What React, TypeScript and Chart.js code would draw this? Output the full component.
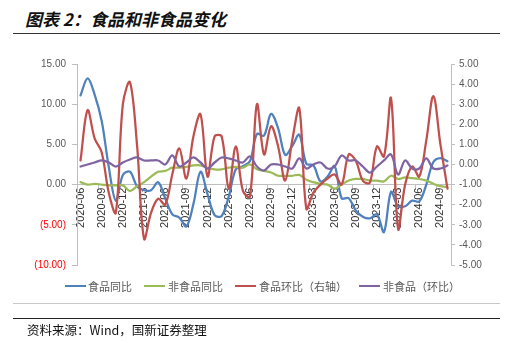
import React, { useEffect, useRef } from "react";
import { Chart, registerables } from "chart.js";

Chart.register(...registerables);

const categories = [
  "2020-06", "2020-07", "2020-08", "2020-09", "2020-10", "2020-11", "2020-12",
  "2021-01", "2021-02", "2021-03", "2021-04", "2021-05", "2021-06",
  "2021-07", "2021-08", "2021-09", "2021-10", "2021-11", "2021-12",
  "2022-01", "2022-02", "2022-03", "2022-04", "2022-05", "2022-06",
  "2022-07", "2022-08", "2022-09", "2022-10", "2022-11", "2022-12",
  "2023-01", "2023-02", "2023-03", "2023-04", "2023-05", "2023-06",
  "2023-07", "2023-08", "2023-09", "2023-10", "2023-11", "2023-12",
  "2024-01", "2024-02", "2024-03", "2024-04", "2024-05", "2024-06",
  "2024-07", "2024-08", "2024-09", "2024-10",
];

// 食品同比 (left axis)
const foodYoY = [
  11.1, 13.2, 11.2, 7.9, 2.2, -2.0, 1.2,
  1.6, -0.2, -0.7, -0.7, 0.3, -1.7,
  -3.7, -4.1, -5.2, -2.4, 1.6, -1.2,
  -3.8, -3.9, -1.5, 1.9, 2.3, 2.9,
  6.3, 6.1, 8.8, 7.0, 3.7, 4.8,
  6.2, 2.6, 2.4, 0.4, 1.0, 2.3,
  -1.7, -1.7, -3.2, -4.0, -4.2, -3.7,
  -5.9, -0.9, -2.7, -2.7, -2.0, -2.1,
  0.0, 2.8, 3.3, 2.9,
];

// 非食品同比 (left axis)
const nonFoodYoY = [
  0.3, 0.0, 0.1, 0.0, -0.1, -0.1, -0.1,
  -0.8, -0.2, 0.3, 1.0, 1.6, 1.7,
  2.1, 2.1, 2.2, 2.4, 2.4, 2.1,
  1.9, 1.9, 2.1, 2.2, 2.1, 2.5,
  1.9, 1.7, 1.5, 1.1, 1.1, 1.1,
  1.2, 0.6, 0.3, 0.1, 0.0, -0.5,
  0.0, 0.5, 0.7, 0.7, 0.5, 0.5,
  0.4, 1.1, 0.7, 0.9, 0.8, 0.7,
  0.5, 0.1, -0.2, -0.3,
];

// 食品环比 (right axis)
const foodMoM = [
  0.2, 2.7, 1.3, 0.6, -1.4, -2.4, 3.0,
  4.1, 1.0, -3.7, -2.4, -1.7, -2.0,
  -0.5, 0.8, -0.7, 1.4, 2.5, -0.6,
  1.4, 1.4, -1.2, 0.9, -1.3, -1.6,
  3.0, 0.5, 1.9, 0.9, -0.8, 1.2,
  2.8, -2.2, -1.4, -1.0, -0.7, -0.5,
  -1.0, 0.5, 0.2, -0.8, -0.9, 0.9,
  0.4, 3.3, -3.2, -1.0, -0.1, -0.6,
  1.2, 3.4, 1.0, -1.2,
];

// 非食品环比 (right axis)
const nonFoodMoM = [
  -0.1, 0.0, 0.1, 0.2, 0.1, -0.1, 0.1,
  0.25, 0.35, 0.2, 0.2, 0.2, 0.0,
  0.45, -0.1, 0.1, 0.35, 0.1, -0.2,
  0.1, 0.35, 0.3, 0.2, 0.1, 0.4,
  -0.1, -0.3, 0.0, 0.0, -0.1, -0.2,
  0.3, -0.2, 0.0, 0.1, -0.2, -0.1,
  0.45, 0.2, 0.2, -0.1, -0.4, -0.1,
  0.2, 0.5, -0.5, 0.2, -0.2, -0.2,
  0.3, -0.2, -0.2, -0.05,
];

const leftTickValues = [-10, -5, 0, 5, 10, 15];
const rightTickValues = [-5, -4, -3, -2, -1, 0, 1, 2, 3, 4, 5];

const seriesNames = ["食品同比", "非食品同比", "食品环比（右轴）", "非食品（环比）"];
const seriesColors = ["#4F81BD", "#9BBB59", "#C0504D", "#8064A2"];

const titleText = "图表 2：食品和非食品变化";
const sourceText = "资料来源：Wind，国新证券整理";

const AXIS_GRAY = "#bfbfbf";
const LABEL_GRAY = "#595959";
const FONT = "'Liberation Sans', Arial, sans-serif";
const CJK = "'Noto Sans CJK SC', 'Noto Sans', sans-serif";

const legendPos = [
  { line: 65, text: 88 },
  { line: 144, text: 168 },
  { line: 235, text: 259 },
  { line: 359, text: 383 },
];

export default function App() {
  const ref = useRef<HTMLCanvasElement>(null);

  useEffect(() => {
    const datasets = [foodYoY, nonFoodYoY, foodMoM, nonFoodMoM].map((d, i) => ({
      label: seriesNames[i],
      data: d,
      borderColor: seriesColors[i],
      backgroundColor: seriesColors[i],
      yAxisID: i < 2 ? "y" : "y1",
      order: 3 - i,
      borderWidth: 2.25,
      tension: 0.35,
      pointRadius: 0,
      fill: false,
      borderCapStyle: "round" as const,
      borderJoinStyle: "round" as const,
    }));

    const chart = new Chart(ref.current!, {
      type: "line",
      data: { labels: categories, datasets },
      options: {
        responsive: false,
        animation: false,
        events: [],
        layout: { padding: { left: 0, right: 0, top: 64, bottom: 78 } },
        plugins: { legend: { display: false }, tooltip: { enabled: false } },
        scales: {
          x: {
            type: "category",
            offset: true,
            position: { y: 0 } as any,
            grid: {
              display: true,
              offset: true,
              drawOnChartArea: false,
              drawTicks: true,
              tickLength: 5,
              tickColor: (ctx: any) =>
                ctx.index % 3 === 0 && ctx.index < categories.length ? AXIS_GRAY : "rgba(0,0,0,0)",
            },
            border: { display: true, color: AXIS_GRAY, width: 1 },
            ticks: {
              autoSkip: false,
              maxRotation: 90,
              minRotation: 90,
              padding: -2,
              color: "#333333",
              font: { family: FONT, size: 11 },
              callback: (_v: any, idx: number) => (idx % 3 === 0 ? categories[idx] : ""),
            },
          },
          y: {
            type: "linear",
            position: "left",
            min: -10,
            max: 15,
            afterBuildTicks: (s: any) => {
              s.ticks = leftTickValues.map((v) => ({ value: v }));
            },
            afterFit: (s: any) => {
              s.width = 77;
            },
            grid: { display: true, drawOnChartArea: false, tickLength: 5, tickColor: AXIS_GRAY },
            border: { display: true, color: AXIS_GRAY, width: 1 },
            ticks: {
              padding: 6,
              font: { family: FONT, size: 10 },
              color: (ctx: any) => (ctx.tick && ctx.tick.value < 0 ? "#FF0000" : LABEL_GRAY),
              callback: (v: any) => {
                const n = Number(v);
                return n < 0 ? `(${Math.abs(n).toFixed(2)})` : n.toFixed(2);
              },
            },
          },
          y1: {
            type: "linear",
            position: "right",
            min: -5,
            max: 5,
            afterBuildTicks: (s: any) => {
              s.ticks = rightTickValues.map((v) => ({ value: v }));
            },
            afterFit: (s: any) => {
              s.width = 62;
            },
            grid: { display: true, drawOnChartArea: false, tickLength: 4, tickColor: AXIS_GRAY },
            border: { display: true, color: AXIS_GRAY, width: 1 },
            ticks: {
              padding: 4,
              autoSkip: false,
              font: { family: FONT, size: 10 },
              color: LABEL_GRAY,
              callback: (v: any) => Number(v).toFixed(2),
            },
          },
        },
      },
    });
    return () => chart.destroy();
  }, []);

  return (
    <div
      style={{
        position: "fixed",
        left: 0,
        top: 0,
        width: 513,
        height: 343,
        background: "#ffffff",
        overflow: "hidden",
      }}
    >
      <div
        style={{
          position: "absolute",
          left: 25,
          top: 9,
          fontFamily: CJK,
          fontSize: 17,
          fontWeight: 700,
          fontStyle: "italic",
          lineHeight: "20px",
          color: "#111",
          whiteSpace: "nowrap",
        }}
      >
        {titleText}
      </div>
      <div style={{ position: "absolute", left: 13, top: 33, width: 487, height: 1, background: "#333" }} />
      <canvas
        ref={ref}
        width={513}
        height={343}
        style={{ position: "absolute", left: 0, top: 0, width: 513, height: 343 }}
      />
      {seriesNames.map((name, i) => (
        <React.Fragment key={name}>
          <div
            style={{
              position: "absolute",
              left: legendPos[i].line,
              top: 285,
              width: 21,
              height: 2.25,
              background: seriesColors[i],
            }}
          />
          <div
            style={{
              position: "absolute",
              left: legendPos[i].text,
              top: 279,
              fontFamily: CJK,
              fontSize: 11,
              lineHeight: "14px",
              color: LABEL_GRAY,
              whiteSpace: "nowrap",
            }}
          >
            {name}
          </div>
        </React.Fragment>
      ))}
      <div style={{ position: "absolute", left: 13, top: 303, width: 487, height: 1, background: "#c8c8c8" }} />
      <div style={{ position: "absolute", left: 13, top: 318, width: 487, height: 1, background: "#222" }} />
      <div
        style={{
          position: "absolute",
          left: 27,
          top: 322,
          fontFamily: CJK,
          fontSize: 12.5,
          lineHeight: "15px",
          color: "#111",
          whiteSpace: "nowrap",
        }}
      >
        {sourceText}
      </div>
    </div>
  );
}
